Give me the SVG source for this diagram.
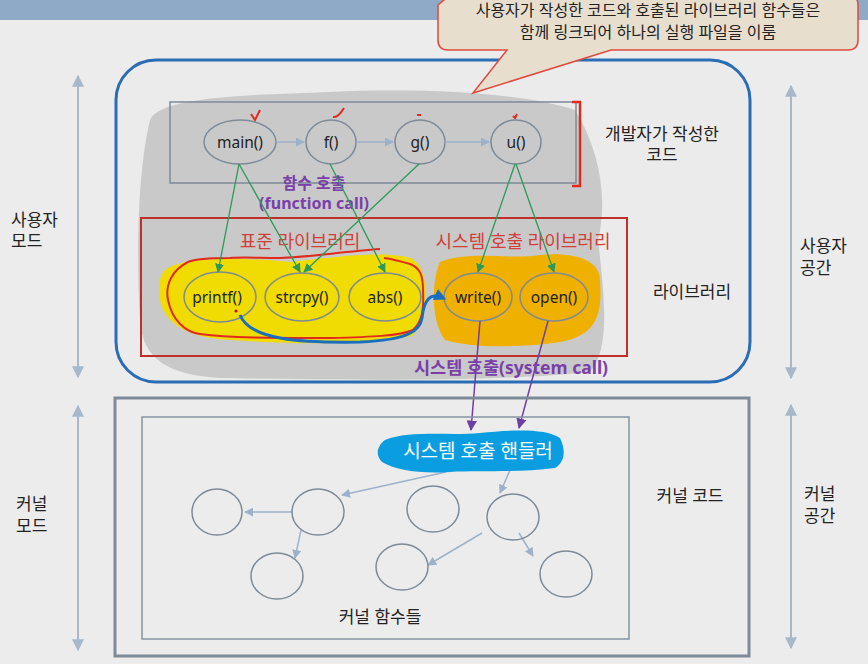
<svg xmlns="http://www.w3.org/2000/svg" width="868" height="664" viewBox="0 0 868 664">
<defs>
<style>
text{font-family:"Noto Sans","Noto Sans CJK KR",sans-serif;font-size:17px;fill:#222;}
.c{text-anchor:middle;}
.lt{font-size:15.5px;}
.node{fill:none;stroke:#7d8a98;stroke-width:1.5;}
.kn{fill:none;stroke:#7d8a98;stroke-width:1.5;}
.blue{stroke:#9cb2ca;stroke-width:1.5;fill:none;}
.green{stroke:#2a9a5a;stroke-width:1.3;fill:none;}
.purple{stroke:#6e3ea0;stroke-width:1.5;fill:none;}
.side{stroke:#a7b8ca;stroke-width:2;fill:none;}
.pt{fill:#7a3fa8;font-weight:bold;font-size:16px;}
.rt{fill:#d0403a;font-size:18px;}
.co{font-size:16px;}
</style>
<marker id="ab" viewBox="0 0 10 10" refX="9" refY="5" markerWidth="6" markerHeight="6" orient="auto-start-reverse"><path d="M0,0L10,5L0,10z" fill="#9cb2ca"/></marker>
<marker id="ag" viewBox="0 0 10 10" refX="9" refY="5" markerWidth="7" markerHeight="7" orient="auto"><path d="M0,0L10,5L0,10z" fill="#2a9a5a"/></marker>
<marker id="ap" viewBox="0 0 10 10" refX="9" refY="5" markerWidth="7" markerHeight="7" orient="auto"><path d="M0,0L10,5L0,10z" fill="#6e3ea0"/></marker>
<marker id="as" viewBox="0 0 10 10" refX="9" refY="5" markerWidth="6" markerHeight="6" orient="auto-start-reverse"><path d="M0,0L10,5L0,10z" fill="#a7b8ca"/></marker>
<marker id="abl" viewBox="0 0 10 10" refX="7" refY="5" markerWidth="4" markerHeight="4" orient="auto"><path d="M0,0L10,5L0,10z" fill="#1a6ec0"/></marker>
</defs>
<rect width="868" height="664" fill="#ececec"/>
<rect width="868" height="20" fill="#8eaac6"/>

<g id="user-space">
<rect x="116" y="60" width="634" height="322" rx="40" fill="#ebebeb" stroke="#2a6db5" stroke-width="3"/>
<path d="M150,120 C160,95 260,95 330,92 C420,88 520,92 575,110 C600,150 608,200 598,240 C605,300 610,350 590,372 C500,382 330,380 220,378 C170,375 142,360 140,320 C136,250 138,170 150,120 Z" fill="#c9c9c9"/>
</g>

<g id="callout">
<path d="M450,-5 H848 Q858,-5 858,5 V40 Q858,50 848,50 H611 L473,93 L507,50 H448 Q438,50 438,40 V5 Z" fill="#e8dece" stroke="#e04a3c" stroke-width="1.5"/>
<text class="c co" x="648" y="16">사용자가 작성한 코드와 호출된 라이브러리 함수들은</text>
<text class="c co" x="648" y="38">함께 링크되어 하나의 실행 파일을 이룸</text>
</g>

<g id="dev-code">
<rect x="170" y="102" width="406" height="81" fill="none" stroke="#7d8a98" stroke-width="1.5"/>
<path d="M572,102 H580 V186 H572" fill="none" stroke="#e02a20" stroke-width="2.5"/>
<path d="M251,114 L255,120 L260,110" fill="none" stroke="#e02a20" stroke-width="2"/>
<path d="M333,117 Q338,118 344,108" fill="none" stroke="#e02a20" stroke-width="2"/>
<path d="M417,115 L421,115" fill="none" stroke="#e02a20" stroke-width="2"/>
<path d="M513,116 L515,118 L517,114" fill="none" stroke="#e02a20" stroke-width="2"/>
<text class="c" x="662" y="140">개발자가 작성한</text>
<text class="c" x="662" y="161">코드</text>
</g>

<g id="main"><ellipse class="node" cx="240" cy="142" rx="36" ry="22"/><text class="c lt" x="240" y="148">main()</text></g>
<g id="f"><ellipse class="node" cx="331" cy="142" rx="25" ry="22"/><text class="c lt" x="331" y="148">f()</text></g>
<g id="g"><ellipse class="node" cx="420" cy="142" rx="25" ry="22"/><text class="c lt" x="420" y="148">g()</text></g>
<g id="u"><ellipse class="node" cx="516" cy="142" rx="25" ry="22"/><text class="c lt" x="516" y="148">u()</text></g>

<g id="labels-call">
<text class="c pt" x="314" y="189">함수 호출</text>
<text class="c pt" x="314" y="209">(function call)</text>
</g>

<g id="library">
<rect x="141" y="218" width="486" height="138" fill="none" stroke="#c0302a" stroke-width="2"/>
<text class="c rt" x="300" y="248">표준 라이브러리</text>
<text class="c rt" x="523" y="248">시스템 호출 라이브러리</text>
<path d="M165,270 C180,258 230,256 290,262 C330,258 380,250 410,258 C432,268 430,320 412,336 C370,345 300,345 230,340 C190,338 165,325 160,300 C158,285 160,275 165,270 Z" fill="#f0dc00"/>
<path d="M380,249 C340,252 300,258 277,258 C260,258 245,257 230,258 C210,258 195,259 188,262 C172,270 165,285 168,300 C172,320 185,332 200,334 C230,338 270,338 330,338 C370,337 400,336 413,330 C422,322 424,310 423,290 C423,275 420,268 410,264 C400,261 392,259 384,258" fill="none" stroke="#e02a20" stroke-width="2"/>
<path d="M440,262 C470,250 510,260 540,255 C570,252 600,258 600,280 C602,310 600,335 560,342 C520,348 470,348 445,340 C430,320 432,280 440,262 Z" fill="#f0b000"/>
<text class="c" x="692" y="298">라이브러리</text>
</g>

<g id="printf"><ellipse class="node" cx="220" cy="297" rx="36" ry="25"/><text class="c lt" x="217" y="303">printf()</text></g>
<g id="strcpy"><ellipse class="node" cx="302" cy="297" rx="37" ry="24"/><text class="c lt" x="302" y="303">strcpy()</text></g>
<g id="abs"><ellipse class="node" cx="385" cy="297" rx="36" ry="24"/><text class="c lt" x="385" y="303">abs()</text></g>
<g id="write"><ellipse class="node" cx="478" cy="297" rx="34" ry="24"/><text class="c lt" x="478" y="303">write()</text></g>
<g id="open"><ellipse class="node" cx="554" cy="297" rx="34" ry="24"/><text class="c lt" x="554" y="303">open()</text></g>

<g id="connectors">
<line class="blue" x1="276" y1="142" x2="304" y2="142" marker-end="url(#ab)"/>
<line class="blue" x1="356" y1="142" x2="393" y2="142" marker-end="url(#ab)"/>
<line class="blue" x1="445" y1="142" x2="489" y2="142" marker-end="url(#ab)"/>
<line class="green" x1="239" y1="164" x2="218" y2="272" marker-end="url(#ag)"/>
<line class="green" x1="239" y1="164" x2="300" y2="272" marker-end="url(#ag)"/>
<line class="green" x1="330" y1="164" x2="385" y2="272" marker-end="url(#ag)"/>
<line class="green" x1="419" y1="164" x2="304" y2="272" marker-end="url(#ag)"/>
<line class="green" x1="515" y1="164" x2="478" y2="272" marker-end="url(#ag)"/>
<line class="green" x1="516" y1="164" x2="554" y2="272" marker-end="url(#ag)"/>
<path d="M240,315 C250,340 300,343 360,342 C410,340 420,330 422,318 C424,300 430,292 443,298" fill="none" stroke="#1a6ec0" stroke-width="3" marker-end="url(#abl)"/>
<circle cx="236" cy="311" r="1.5" fill="#c00"/>
<line class="purple" x1="480" y1="321" x2="471" y2="430" marker-end="url(#ap)"/>
<line class="purple" x1="548" y1="321" x2="519" y2="428" marker-end="url(#ap)"/>
<line class="blue" x1="446" y1="472" x2="342" y2="495" marker-end="url(#ab)"/>
<line class="blue" x1="510" y1="470" x2="500" y2="493" marker-end="url(#ab)"/>
<line class="blue" x1="292" y1="512" x2="245" y2="512" marker-end="url(#ab)"/>
<line class="blue" x1="301" y1="530" x2="295" y2="558" marker-end="url(#ab)"/>
<line class="blue" x1="482" y1="533" x2="428" y2="565" marker-end="url(#ab)"/>
<line class="blue" x1="519" y1="533" x2="533" y2="556" marker-end="url(#ab)"/>
<line class="side" x1="78" y1="76" x2="78" y2="377" marker-start="url(#as)" marker-end="url(#as)"/>
<line class="side" x1="78" y1="406" x2="78" y2="650" marker-start="url(#as)" marker-end="url(#as)"/>
<line class="side" x1="791" y1="86" x2="791" y2="378" marker-start="url(#as)" marker-end="url(#as)"/>
<line class="side" x1="791" y1="405" x2="791" y2="648" marker-start="url(#as)" marker-end="url(#as)"/>
</g>

<text class="c pt" x="511" y="374" style="font-size:17.5px">시스템 호출(system call)</text>

<g id="kernel">
<rect x="115" y="398" width="634" height="258" fill="none" stroke="#7d8a98" stroke-width="3"/>
<rect x="142" y="417" width="487" height="222" fill="none" stroke="#8494a4" stroke-width="1.5"/>
<text class="c" x="690" y="502">커널 코드</text>
<text class="c" x="380" y="623">커널 함수들</text>
</g>

<g id="handler">
<path d="M385,440 C410,430 450,436 480,433 C510,430 545,428 560,438 C566,450 565,462 555,468 C520,473 480,470 450,472 C420,474 395,470 382,462 C375,455 377,446 385,440 Z" fill="#0a9ee0"/>
<text class="c" x="478" y="458" style="fill:#ffffff;font-size:19px">시스템 호출 핸들러</text>
</g>

<g id="k1"><ellipse class="kn" cx="217" cy="512" rx="25" ry="23"/></g>
<g id="k2"><ellipse class="kn" cx="318" cy="512" rx="26" ry="23"/></g>
<g id="k3"><ellipse class="kn" cx="433" cy="509" rx="26" ry="23"/></g>
<g id="k4"><ellipse class="kn" cx="513" cy="517" rx="26" ry="23"/></g>
<g id="k5"><ellipse class="kn" cx="277" cy="576" rx="26" ry="23"/></g>
<g id="k6"><ellipse class="kn" cx="402" cy="567" rx="26" ry="23"/></g>
<g id="k7"><ellipse class="kn" cx="566" cy="574" rx="26" ry="23"/></g>

<g id="side-labels">
<text x="11" y="226">사용자</text>
<text x="11" y="247">모드</text>
<text x="16" y="510">커널</text>
<text x="16" y="532">모드</text>
<text x="800" y="252">사용자</text>
<text x="800" y="274">공간</text>
<text x="804" y="500">커널</text>
<text x="804" y="522">공간</text>
</g>
</svg>
